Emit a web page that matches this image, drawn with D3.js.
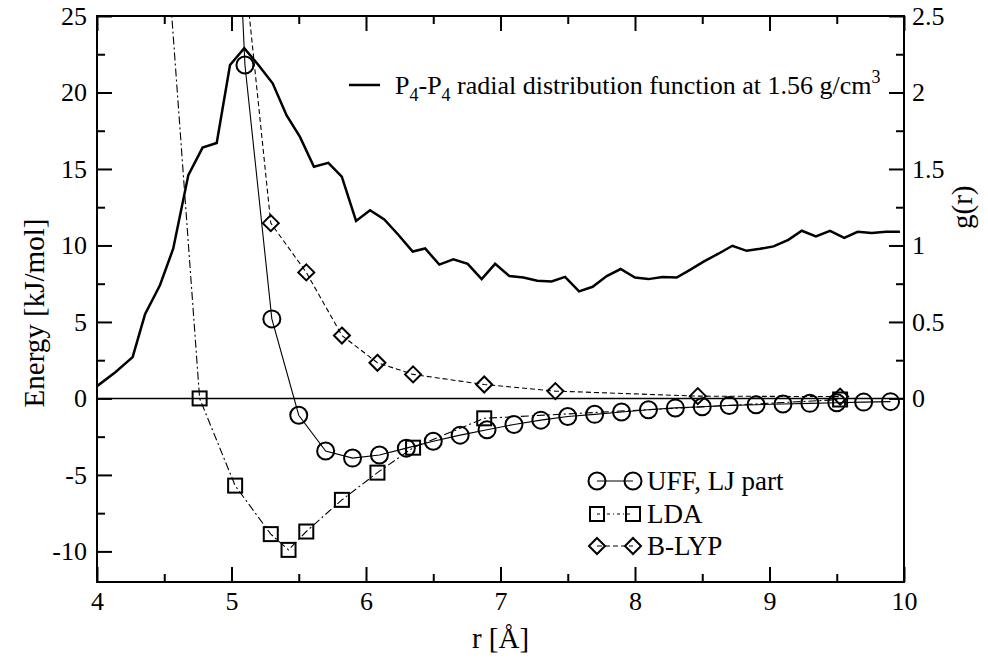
<!DOCTYPE html>
<html><head><meta charset="utf-8">
<script src="https://cdn.jsdelivr.net/npm/d3@7"></script>
<style>
html,body{margin:0;padding:0;background:#fff;}
svg{display:block;}
text{font-family:"Liberation Serif","Times New Roman",serif;fill:#000;}
</style></head>
<body>
<svg id="chart" width="988" height="659"></svg>
<script>
// ---- data ----
const gR = [4.0,4.134,4.265,4.357,4.468,4.567,4.679,4.785,4.89,4.989,
  5.095,5.2,5.306,5.41,5.509,5.613,5.72,5.82,5.926,6.03,
  6.136,6.24,6.347,6.44,6.545,6.649,6.756,6.86,6.96,7.066,
  7.17,7.274,7.38,7.48,7.584,7.685,7.79,7.893,8.0,8.099,
  8.205,8.31,8.409,8.513,8.62,8.724,8.83,8.93,9.03,9.14,
  9.24,9.345,9.45,9.556,9.655,9.76,9.866,9.97];
const gVals = [0.08,0.17,0.27,0.55,0.74,0.98,1.46,1.64,1.67,2.18,
  2.29,2.18,2.06,1.85,1.71,1.515,1.54,1.45,1.16,1.23,
  1.17,1.07,0.96,0.98,0.875,0.91,0.88,0.78,0.88,0.80,
  0.79,0.77,0.765,0.795,0.70,0.73,0.80,0.846,0.79,0.78,
  0.794,0.79,0.84,0.896,0.946,0.998,0.965,0.978,0.994,1.037,
  1.096,1.059,1.096,1.05,1.089,1.081,1.089,1.089];

const uffR = [4.9,5.1,5.3,5.5,5.7,5.9,6.1,6.3,6.5,6.7,6.9,7.1,7.3,7.5,7.7,7.9,8.1,8.3,8.5,8.7,8.9,9.1,9.3,9.5,9.7,9.9];
const uffE = [60,21.8,5.2,-1.1,-3.44,-3.9,-3.7,-3.25,-2.8,-2.4,-2.05,-1.7,-1.42,-1.18,-1.04,-0.89,-0.74,-0.62,-0.54,-0.46,-0.41,-0.36,-0.32,-0.28,-0.24,-0.21];

const ldaR = [4.498,4.763,5.027,5.292,5.424,5.556,5.821,6.085,6.35,6.879,9.525];
const ldaE = [32,0,-5.7,-8.87,-9.9,-8.7,-6.63,-4.85,-3.22,-1.3,-0.07];

const blypR = [5.027,5.292,5.556,5.821,6.085,6.35,6.879,7.408,8.467,9.525];
const blypE = [34,11.46,8.24,4.11,2.33,1.57,0.91,0.48,0.15,0.12];

const xMajor = [4,5,6,7,8,9,10];
const xMinor = [4.5,5.5,6.5,7.5,8.5,9.5];
const yMajor = [-10,-5,0,5,10,15,20,25];
const yMinor = [-7.5,-2.5,2.5,7.5,12.5,17.5,22.5];
const gMajor = [0,0.5,1,1.5,2,2.5];
const gMinor = [0.25,0.75,1.25,1.75,2.25];
const gLabels = ["0","0.5","1","1.5","2","2.5"];

const legendNames = ["UFF, LJ part","LDA","B-LYP"];

// ---- layout ----
const L = 97, R = 904, T = 16, B = 582;
const svg = d3.select("#chart");
const x = d3.scaleLinear().domain([4,10]).range([L,R]);
const y = d3.scaleLinear().domain([-12,25]).range([B,T]);
const y2 = d3.scaleLinear().domain([-1.2,2.5]).range([B,T]);

svg.append("defs").append("clipPath").attr("id","clip")
  .append("rect").attr("x",L).attr("y",T).attr("width",R-L).attr("height",B-T);

const plot = svg.append("g").attr("clip-path","url(#clip)");

// zero line
plot.append("line").attr("x1",L).attr("x2",R).attr("y1",y(0)).attr("y2",y(0))
  .attr("stroke","#000").attr("stroke-width",1.5);

// g(r)
const gData = gR.map((r,i)=>[r,gVals[i]]);
plot.append("path").datum(gData)
  .attr("d", d3.line().x(d=>x(d[0])).y(d=>y2(d[1])))
  .attr("fill","none").attr("stroke","#000").attr("stroke-width",2.5).attr("stroke-linejoin","miter");

function series(rs, es, dash, sym) {
  const data = rs.map((r,i)=>[r,es[i]]);
  plot.append("path").datum(data)
    .attr("d", d3.line().x(d=>x(d[0])).y(d=>y(d[1])))
    .attr("fill","none").attr("stroke","#000").attr("stroke-width",1.1)
    .attr("stroke-dasharray", dash);
  const pts = data.filter(d=>d[1] <= 25 && d[0] >= 4);
  pts.forEach(d=>drawSym(plot, sym, x(d[0]), y(d[1])));
}
function drawSym(g, sym, cx, cy) {
  if (sym==="circle") {
    g.append("circle").attr("cx",cx).attr("cy",cy).attr("r",8.5)
      .attr("fill","none").attr("stroke","#000").attr("stroke-width",2);
  } else if (sym==="square") {
    g.append("rect").attr("x",cx-7).attr("y",cy-7).attr("width",14).attr("height",14)
      .attr("fill","none").attr("stroke","#000").attr("stroke-width",2);
  } else {
    const s = 8;
    g.append("path").attr("d",`M${cx},${cy-s}L${cx+s},${cy}L${cx},${cy+s}L${cx-s},${cy}Z`)
      .attr("fill","none").attr("stroke","#000").attr("stroke-width",2);
  }
}
series(uffR, uffE, null, "circle");
series(ldaR, ldaE, "8,3,2,3", "square");
series(blypR, blypE, "5,3", "diamond");

// ---- axes ----
function styleAxis(g){
  g.select(".domain").remove();
  g.selectAll(".tick line").attr("stroke","#000").attr("stroke-width",2);
  g.selectAll(".tick text").style("font-family","Liberation Serif").style("font-size","26px").attr("fill","#000");
}
svg.append("g").attr("transform",`translate(0,${B})`)
  .call(d3.axisBottom(x).tickValues(xMajor).tickSize(-15).tickPadding(10).tickFormat(d=>String(d)))
  .call(styleAxis);
svg.append("g").attr("transform",`translate(0,${B})`)
  .call(d3.axisBottom(x).tickValues(xMinor).tickSize(-8).tickFormat(""))
  .call(styleAxis);
svg.append("g").attr("transform",`translate(0,${T})`)
  .call(d3.axisTop(x).tickValues(xMajor).tickSize(-15).tickFormat(""))
  .call(styleAxis);
svg.append("g").attr("transform",`translate(0,${T})`)
  .call(d3.axisTop(x).tickValues(xMinor).tickSize(-8).tickFormat(""))
  .call(styleAxis);
svg.append("g").attr("transform",`translate(${L},0)`)
  .call(d3.axisLeft(y).tickValues(yMajor).tickSize(-15).tickPadding(10).tickFormat(d=>String(d)))
  .call(styleAxis);
svg.append("g").attr("transform",`translate(${L},0)`)
  .call(d3.axisLeft(y).tickValues(yMinor).tickSize(-8).tickFormat(""))
  .call(styleAxis);
svg.append("g").attr("transform",`translate(${R},0)`)
  .call(d3.axisRight(y2).tickValues(gMajor).tickSize(-15).tickPadding(8).tickFormat((d,i)=>gLabels[i]))
  .call(styleAxis);
svg.append("g").attr("transform",`translate(${R},0)`)
  .call(d3.axisRight(y2).tickValues(gMinor).tickSize(-8).tickFormat(""))
  .call(styleAxis);

// frame
svg.append("rect").attr("x",L).attr("y",T).attr("width",R-L).attr("height",B-T)
  .attr("fill","none").attr("stroke","#000").attr("stroke-width",2);

// axis titles
svg.append("text").attr("transform",`translate(44,${(T+B)/2+14}) rotate(-90)`)
  .attr("text-anchor","middle").style("font-size","29px").text("Energy [kJ/mol]");
svg.append("text").attr("x",(L+R)/2).attr("y",648)
  .attr("text-anchor","middle").style("font-size","29px").text("r [Å]");
svg.append("text").attr("transform",`translate(972,${y2(1.25)}) rotate(-90)`)
  .attr("text-anchor","middle").style("font-size","29px").text("g(r)");

// top legend
svg.append("line").attr("x1",349).attr("x2",380).attr("y1",85).attr("y2",85)
  .attr("stroke","#000").attr("stroke-width",2.5);
const lt = svg.append("text").attr("x",395).attr("y",94).style("font-size","26px");
lt.append("tspan").text("P");
lt.append("tspan").attr("dy",7).style("font-size","18px").text("4");
lt.append("tspan").attr("dy",-7).text("-P");
lt.append("tspan").attr("dy",7).style("font-size","18px").text("4");
lt.append("tspan").attr("dy",-7).text(" radial distribution function at 1.56 g/cm");
lt.append("tspan").attr("dy",-11).style("font-size","18px").text("3");

// bottom legend
const legY = [481,514,546];
const legSym = ["circle","square","diamond"];
const legDash = [null,"3,3,1,3","5,3"];
legendNames.forEach((name,i)=>{
  const g = svg.append("g");
  g.append("line").attr("x1",597).attr("x2",633).attr("y1",legY[i]).attr("y2",legY[i])
    .attr("stroke","#000").attr("stroke-width",1.1).attr("stroke-dasharray",legDash[i]);
  drawSym(g, legSym[i], 597, legY[i]);
  drawSym(g, legSym[i], 633, legY[i]);
  g.append("text").attr("x",647).attr("y",legY[i]).attr("dy","0.35em")
    .style("font-size","27px").text(name);
});
</script>
</body></html>
